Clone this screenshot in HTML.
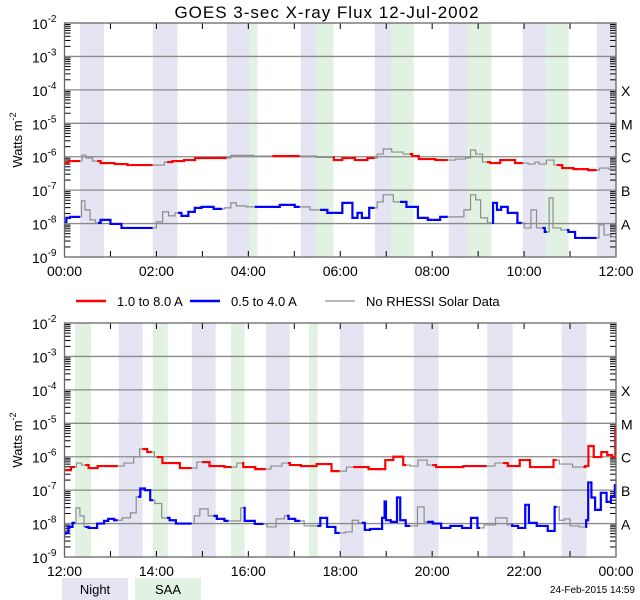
<!DOCTYPE html>
<html><head><meta charset="utf-8"><style>
body{margin:0;background:#fff;}
svg{display:block;font-family:"Liberation Sans",sans-serif;}
</style></head><body>
<svg id="chart" width="640" height="600" viewBox="0 0 640 600" xmlns="http://www.w3.org/2000/svg"></svg>
<script>
// ---- data (hours, log10 flux, flag 1=colored / 0=no RHESSI data gray) ----
const topNight=[[0.34,0.86],[1.92,2.46],[3.53,4.03],[5.14,5.48],[6.75,7.12],[8.36,8.77],[9.97,10.47],[11.58,12]];
const topSAA=[[4.03,4.2],[5.48,5.85],[7.12,7.6],[8.77,9.29],[10.47,10.97]];
const botNight=[[1.18,1.7],[2.77,3.29],[4.38,4.9],[5.99,6.51],[7.6,8.14],[9.2,9.75],[10.82,11.36]];
const botSAA=[[0.23,0.58],[1.92,2.25],[3.62,3.92],[5.32,5.51]];

const topLongT=[0,0.16,0.34,0.42,0.51,0.71,0.86,1.32,1.42,1.92,2.12,2.23,2.47,2.73,2.95,3.53,3.71,4.52,4.8,5.12,5.84,5.88,6.21,6.43,6.75,6.86,7.01,7.23,7.51,7.62,7.8,8.34,8.67,8.78,8.89,9.0,9.19,9.33,9.63,9.98,10.2,10.27,10.38,10.59,10.71,10.95,11.2,11.58,11.7,12];
const topLongV=[-6.19,-6.13,-6.13,-5.95,-6.04,-6.13,-6.19,-6.22,-6.25,-6.25,-6.25,-6.16,-6.13,-6.1,-6.04,-6.04,-5.96,-5.98,-5.98,-5.98,-6.02,-6.1,-6.04,-6.1,-6.04,-5.92,-5.77,-5.86,-5.92,-5.98,-6.07,-6.1,-6.07,-6.04,-5.8,-5.92,-6.16,-6.19,-6.1,-6.19,-6.22,-6.16,-6.22,-6.1,-6.25,-6.34,-6.37,-6.4,-6.34,-6.37];
const topLongF=[1,1,1,0,0,0,1,1,1,1,0,0,1,1,1,1,0,0,1,1,0,1,1,1,1,0,0,0,0,1,1,1,0,0,0,0,0,1,1,1,0,0,0,0,0,1,1,1,0,0];

const topShortT=[0,0.08,0.16,0.34,0.4,0.49,0.62,0.73,0.84,1.16,1.32,1.92,2.08,2.19,2.34,2.47,2.62,2.77,2.9,3.06,3.43,3.53,3.71,3.77,4.14,4.47,4.9,5.12,5.56,5.88,6.21,6.32,6.43,6.51,6.75,6.86,7.01,7.3,7.58,7.8,8.01,8.34,8.6,8.78,8.89,9.0,9.11,9.3,9.35,9.47,9.53,9.76,9.95,10.06,10.24,10.3,10.4,10.5,10.59,10.67,10.93,11.0,11.22,11.58,11.68,11.8,12];
const topShortV=[-7.95,-7.83,-7.8,-7.8,-7.32,-7.59,-7.89,-7.98,-7.89,-8.01,-8.13,-8.13,-7.95,-7.65,-7.77,-7.68,-7.77,-7.65,-7.53,-7.5,-7.56,-7.53,-7.38,-7.47,-7.5,-7.5,-7.44,-7.5,-7.59,-7.68,-7.38,-7.83,-7.68,-7.83,-7.53,-7.35,-7.14,-7.35,-7.5,-7.83,-7.89,-7.8,-7.8,-7.59,-7.14,-7.29,-7.83,-7.98,-7.38,-7.59,-7.5,-7.68,-7.98,-8.13,-7.59,-8.13,-8.13,-8.25,-7.23,-8.13,-8.19,-8.25,-8.43,-8.43,-8.04,-8.34,-8.4];
const topShortF=[1,1,1,1,0,0,0,0,1,1,1,1,0,0,0,0,1,1,1,1,1,0,0,0,0,1,1,1,0,1,1,1,1,1,1,0,0,0,1,1,1,1,0,0,0,0,0,0,1,1,1,1,1,0,0,0,0,1,0,0,0,1,1,1,0,0,0];

const botLongT=[0,0.05,0.23,0.29,0.45,0.6,0.84,1.16,1.43,1.58,1.69,1.7,1.9,2.01,2.25,2.77,2.99,3.32,3.64,3.86,3.92,4.38,4.6,4.86,4.95,5.34,5.63,5.99,6.28,6.95,7.01,7.3,7.44,7.6,7.78,8.0,8.17,9.19,9.54,9.75,10.06,10.2,10.57,10.71,10.82,11.29,11.37,11.43,11.6,11.76,11.86,11.97,12];
const botLongV=[-6.4,-6.4,-6.31,-6.19,-6.25,-6.34,-6.28,-6.28,-6.19,-6.01,-5.77,-5.77,-5.86,-6.01,-6.19,-6.34,-6.16,-6.28,-6.31,-6.19,-6.31,-6.37,-6.28,-6.19,-6.25,-6.28,-6.22,-6.43,-6.31,-6.37,-6.1,-6.0,-6.25,-6.28,-6.1,-6.25,-6.31,-6.28,-6.19,-6.28,-6.1,-6.31,-6.31,-6.1,-6.22,-6.31,-6.28,-5.68,-6.01,-5.86,-5.95,-6.01,-5.15];
const botLongF=[1,1,1,0,0,1,1,1,0,0,0,1,1,0,1,1,0,1,1,0,1,1,0,0,1,1,1,1,0,1,1,1,1,0,0,0,1,1,0,1,1,1,1,1,0,0,1,1,1,1,1,1,1];

const botShortT=[0,0.05,0.12,0.23,0.27,0.4,0.45,0.6,0.82,0.9,1.0,1.16,1.35,1.52,1.6,1.7,1.8,1.93,2.0,2.23,2.34,2.51,2.77,2.88,3.01,3.24,3.39,3.57,3.78,3.89,3.95,4.33,4.48,4.73,4.84,4.91,5.13,5.3,5.5,5.63,5.8,5.99,6.03,6.2,6.32,6.47,6.6,6.7,6.87,6.95,6.98,7.01,7.19,7.28,7.33,7.52,7.6,7.76,7.89,8.14,8.25,8.54,8.76,8.93,9.04,9.22,9.54,9.72,9.76,9.98,10.07,10.14,10.41,10.62,10.71,10.82,10.93,11.07,11.33,11.37,11.42,11.51,11.58,11.76,11.83,11.95,12];
const botShortV=[-8.3,-8.28,-8.1,-7.98,-7.53,-7.77,-8.1,-8.13,-8.0,-7.92,-7.86,-7.9,-7.83,-7.68,-7.2,-6.95,-7.0,-7.3,-7.4,-7.83,-7.9,-8.0,-8.0,-7.77,-7.56,-7.77,-7.86,-7.92,-7.92,-7.53,-7.92,-8.01,-8.1,-7.86,-7.77,-7.86,-7.92,-8.07,-8.07,-7.83,-8.1,-8.28,-8.28,-8.25,-7.9,-7.98,-8.19,-8.16,-8.16,-7.83,-7.34,-7.9,-7.95,-7.22,-7.9,-8.07,-8.07,-7.5,-7.95,-8.0,-8.13,-8.07,-8.13,-7.83,-8.13,-8.04,-7.83,-8.04,-8.07,-8.13,-7.44,-7.98,-8.07,-8.22,-7.5,-7.9,-7.86,-8.07,-8.1,-7.9,-6.77,-7.22,-7.59,-7.08,-7.35,-7.2,-6.85];
const botShortF=[1,1,1,1,0,0,0,1,1,1,1,1,0,0,0,1,1,1,0,0,1,1,1,0,0,0,1,1,0,0,1,1,0,0,0,1,1,0,0,1,1,1,0,0,0,0,1,1,1,1,1,1,1,1,1,1,0,0,0,1,1,1,1,1,1,0,0,0,1,1,1,1,1,1,1,0,0,0,0,1,1,1,1,1,1,1,1];

const hourLabels=["00:00","02:00","04:00","06:00","08:00","10:00","12:00"];
const hourLabels2=["12:00","14:00","16:00","18:00","20:00","22:00","00:00"];
const decades=[-2,-3,-4,-5,-6,-7,-8,-9];
const classLabels=["X","M","C","B","A"];

const NS="http://www.w3.org/2000/svg";
const svg=document.getElementById('chart');
const X0=64.5,X1=616,PX=(X1-X0)/12,DEC=33.43;
function el(tag,attrs,parent){const e=document.createElementNS(NS,tag);for(const k in attrs)e.setAttribute(k,attrs[k]);(parent||svg).appendChild(e);return e;}
function xs(h){return X0+h*PX;}

function panel(top,night,saa,LT,LV,LF,ST,SV,SF,labels,name){
  const g=el('g',{});
  
  
  const ys=v=>top+(-2-v)*DEC;
  const bottom=ys(-9);
  night.forEach(b=>{const r=el('rect',{x:xs(b[0]),y:top,width:xs(b[1])-xs(b[0]),height:bottom-top,fill:'#e4e4f2'},g);
    
    });
  saa.forEach(b=>{const r=el('rect',{x:xs(b[0]),y:top,width:xs(b[1])-xs(b[0]),height:bottom-top,fill:'#e2f2e2'},g);
    
    });
  decades.forEach((d,i)=>{
    if(i>0&&i<7) el('line',{x1:X0,x2:X1,y1:ys(d),y2:ys(d),stroke:'#8a8a8a','stroke-width':1.3},g);
    const t=el('text',{x:X0-8,y:ys(d)+6,'text-anchor':'end','font-size':14,fill:'#000'},g);
    
    
    t.innerHTML='10<tspan dy="-7" font-size="10">'+d+'</tspan>';
    if(i<7){for(let m=2;m<=9;m++){const yy=ys(d-1+Math.log10(m));
      el('line',{x1:X0,x2:X0+6,y1:yy,y2:yy,stroke:'#000'},g);
      el('line',{x1:X1-6,x2:X1,y1:yy,y2:yy,stroke:'#000'},g);}}
  });
  classLabels.forEach((c,i)=>{const t=el('text',{x:621,y:ys(-4-i)+6,'font-size':14},g);
    
    
    t.textContent=c;});
  for(let h=0;h<=12;h++){el('line',{x1:xs(h),x2:xs(h),y1:bottom,y2:bottom-6,stroke:'#000'},g);
    el('line',{x1:xs(h),x2:xs(h),y1:top,y2:top+6,stroke:'#000'},g);}
  labels.forEach((l,i)=>{const t=el('text',{x:xs(i*2),y:bottom+19,'text-anchor':'middle','font-size':14},g);
    
    
    t.textContent=l;});
  function series(T,V,F,col,nm){
    for(let i=1;i<T.length;i++){const c=F[i]?col:'#8c8c8c';
      const xa=xs(T[i-1]),xb=xs(T[i]),ya=ys(V[i-1]),yb=ys(V[i]);
      const s=el('path',{d:`M${xa},${ya} L${(xa+xb)/2},${ya} L${(xa+xb)/2},${yb} L${xb},${yb}`,fill:'none',stroke:c,'stroke-width':F[i]?2.2:1.2},g);
      
      }
  }
  series(LT,LV,LF,'#ff0000','long-channel-segment');
  series(ST,SV,SF,'#0000ff','short-channel-segment');
  el('rect',{x:X0,y:top,width:X1-X0,height:bottom-top,fill:'none',stroke:'#666','stroke-width':1.3},g);
  const yl=el('text',{transform:`translate(22,${(top+bottom)/2}) rotate(-90)`,'text-anchor':'middle','font-size':13},g);
  
  
  yl.innerHTML='Watts m<tspan dy="-6" font-size="9">-2</tspan>';
}
const tt=el('text',{x:327,y:18,'text-anchor':'middle','font-size':17,'letter-spacing':1});


tt.setAttribute('xml:space','preserve');
tt.textContent='GOES 3-sec X-ray Flux   12-Jul-2002';
panel(23,topNight,topSAA,topLongT,topLongV,topLongF,topShortT,topShortV,topShortF,hourLabels,'top-panel');
panel(323,botNight,botSAA,botLongT,botLongV,botLongF,botShortT,botShortV,botShortF,hourLabels2,'bottom-panel');
[[76,'#ff0000',2.4,'1.0 to 8.0 A'],[190,'#0000ff',2.4,'0.5 to 4.0 A'],[325,'#8c8c8c',1.2,'No RHESSI Solar Data']].forEach(l=>{
  const g=el('g',{});
  
  
  el('line',{x1:l[0],x2:l[0]+30,y1:301,y2:301,stroke:l[1],'stroke-width':l[2]},g);
  const t=el('text',{x:l[0]+41,y:306,'font-size':13},g);t.textContent=l[3];
});
[[62,'#e4e4f2','Night','night-legend'],[135,'#e2f2e2','SAA','saa-legend']].forEach(l=>{
  const g=el('g',{});
  
  
  el('rect',{x:l[0],y:578,width:66,height:22,fill:l[1]},g);
  const t=el('text',{x:l[0]+33,y:594,'text-anchor':'middle','font-size':13},g);t.textContent=l[2];
});
const dt=el('text',{x:635,y:593,'text-anchor':'end','font-size':10});


dt.textContent='24-Feb-2015 14:59';
</script>
</body></html>
